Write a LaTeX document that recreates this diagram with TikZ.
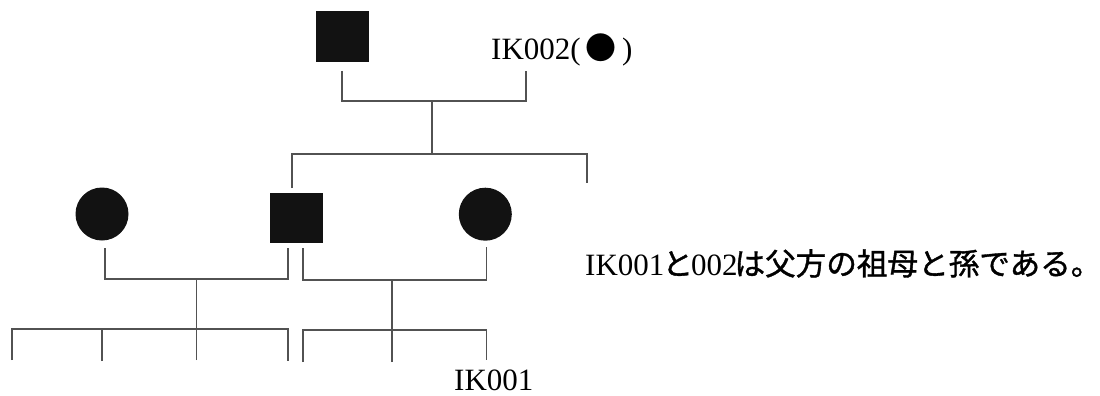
\documentclass[tikz,border=0pt]{standalone}
\usepackage{fontspec}
\setmainfont{Liberation Serif}
\newfontfamily\jp{Noto Sans CJK JP}
\newfontfamily\jpnote[FakeBold=1.2]{Noto Sans CJK JP}
\usetikzlibrary{calc}
\newcommand{\jpsize}{\fontsize{30.6}{30.6}\selectfont\jpnote}
\begin{document}
\begin{tikzpicture}[x=1pt,y=-1pt,
  male/.style={draw=none,fill=black!93,minimum width=53pt,minimum height=51pt,inner sep=0pt},
  female/.style={draw=none,fill=black!93,circle,minimum size=53pt,inner sep=0pt},
  link/.style={draw=black!68,line width=1.3pt},
  lbl/.style={inner sep=0pt,anchor=base west,font=\fontsize{31}{31}\selectfont}]
\useasboundingbox (0,0) rectangle (1100,396);

% grandparents
\node[male] (gf) at (342.5,36.5) {};
\node[lbl] (ik002) at (491,59.3) {IK002(\,{\jp ●}\,)};

\coordinate (gfdrop) at (342,71);
\coordinate (gmdrop) at (526,71);
\coordinate (topbar) at (432,101);
\coordinate (sibbar) at (432,154);
\coordinate (faup) at (292,188);
\coordinate (sibR) at (587,183);
\draw[link] (gfdrop) |- (topbar) -| (gmdrop);
\draw[link] (topbar) -- (sibbar);
\draw[link] (faup) |- (sibbar) -| (sibR);

% second generation
\node[female] (lc) at (102,214) {};
\node[male, minimum height=50pt] (fa) at (296,217.5) {};
\node[female] (rc) at (485.3,214.2) {};

% first marriage
\coordinate (lcdown) at (105,248);
\coordinate (faL) at (288,248);
\coordinate (lbar) at (196.7,279);
\coordinate (lkids) at (196.7,329);
\draw[link] (lcdown) |- (lbar) -| (faL);
\draw[link] (lbar) -- (lkids);
\coordinate (c1) at (12,360);
\coordinate (c2) at (102,361);
\coordinate (c3) at (196.7,360);
\coordinate (c4) at (288,361);
\draw[link] (c1) |- (lkids) -| (c4);
\draw[link] (c2) -- (c2 |- lkids);
\draw[link] (c3) -- (lkids);

% second marriage
\coordinate (faR) at (303,248);
\coordinate (rcdown) at (486.7,247);
\coordinate (rbar) at (392,280);
\coordinate (rkids) at (392,330);
\draw[link] (faR) |- (rbar) -| (rcdown);
\draw[link] (rbar) -- (rkids);
\coordinate (c5) at (303,362);
\coordinate (c6) at (392,362);
\coordinate (c7) at (486.7,360);
\draw[link] (c5) |- (rkids) -| (c7);
\draw[link] (c6) -- (rkids);

\node[lbl] (ik001) at (454,390.7) {IK001};

% note: kana and kanji in a heavy gothic, Latin in the serif
\node[lbl] (note) at (585,275)
  {IK001\kern-2pt{\jpsize と}\kern-2pt002\kern-3pt{\jpsize は父方の祖母と孫である。}};
\end{tikzpicture}
\end{document}
